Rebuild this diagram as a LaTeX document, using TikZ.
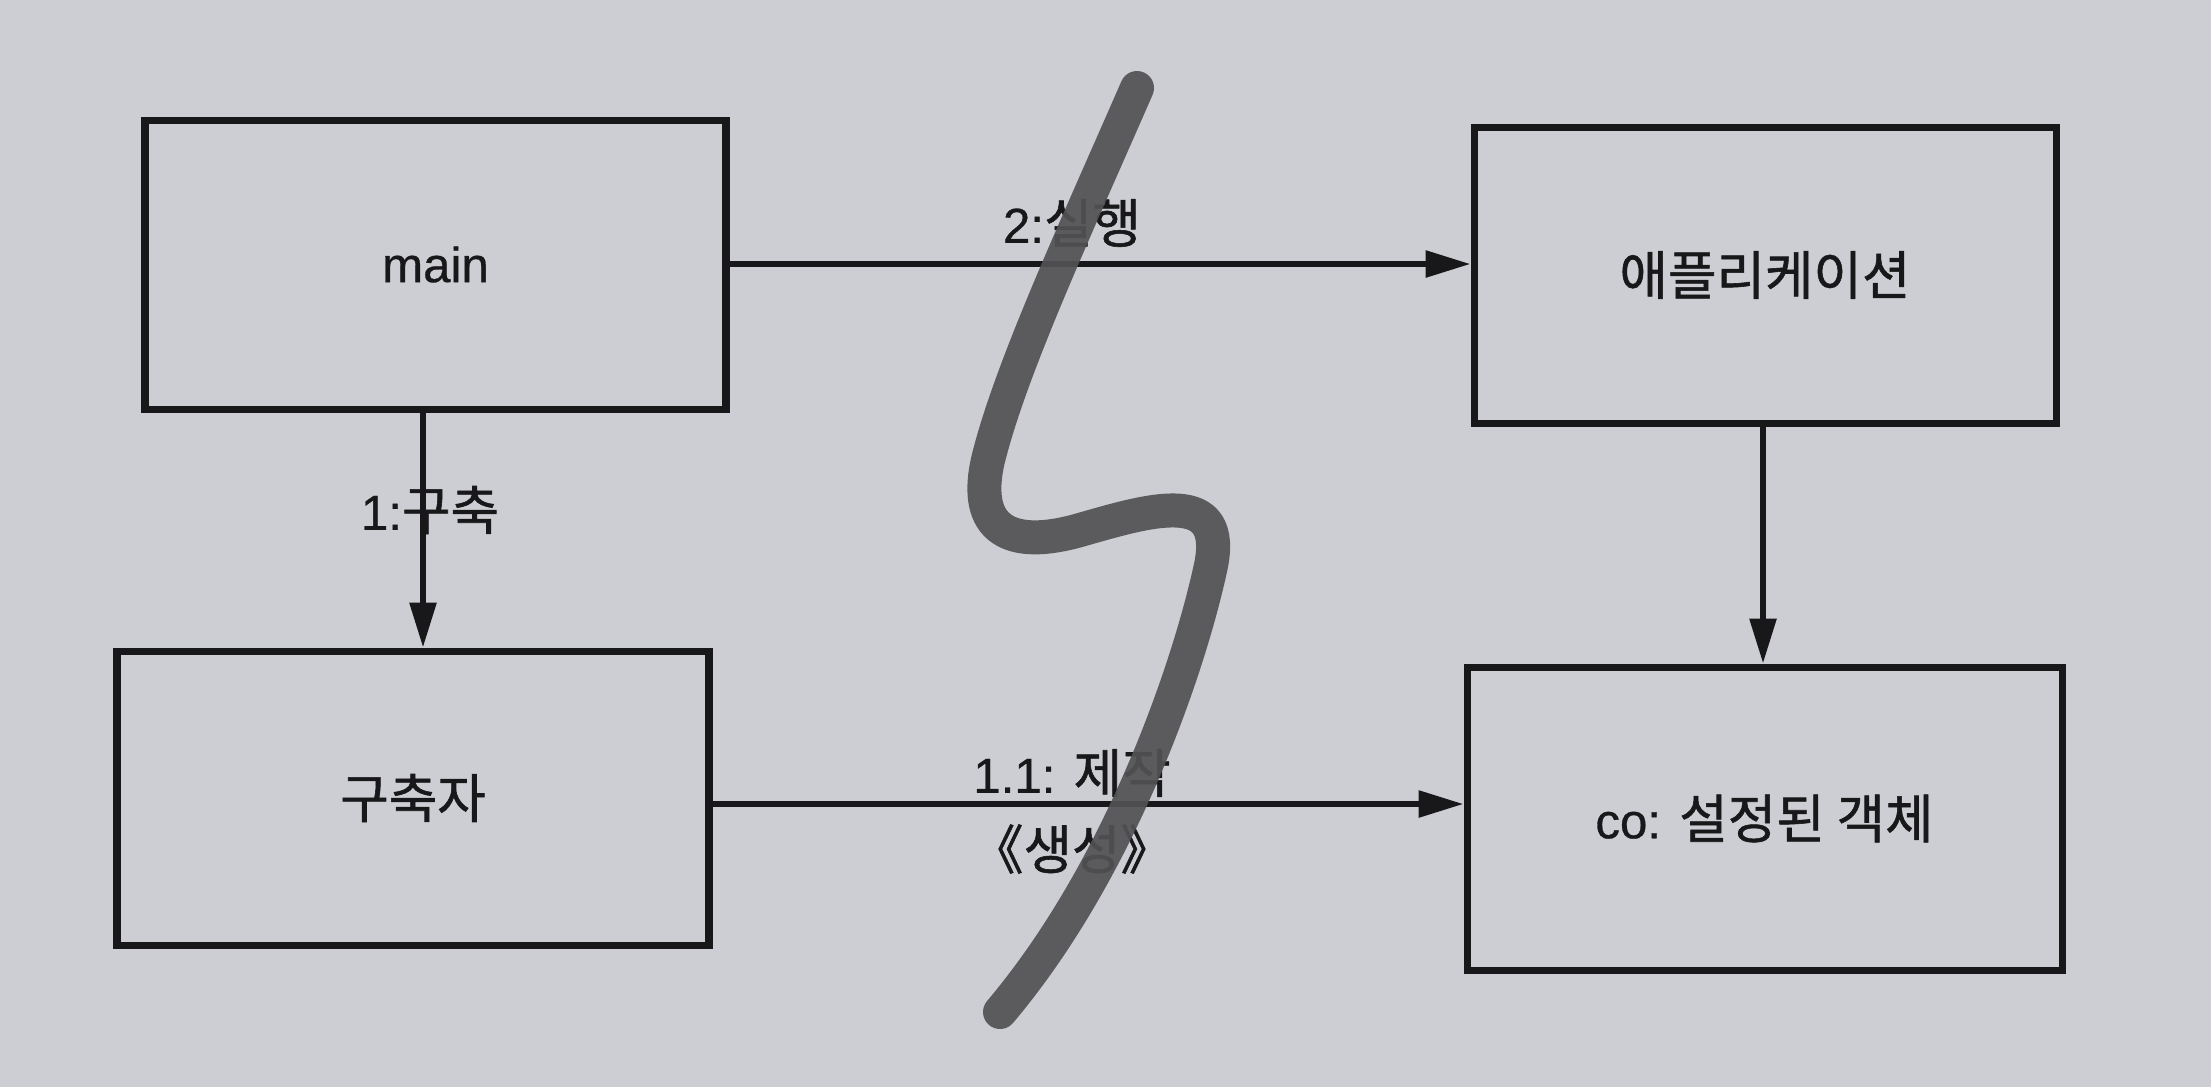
\documentclass[tikz,border=0pt]{standalone}
\usepackage{fontspec}
\setmainfont[FakeBold=0.6]{Liberation Sans}
\newfontfamily\kr[FakeBold=1.1]{Noto Sans CJK KR}
\usetikzlibrary{arrows.meta,calc}
\definecolor{paper}{RGB}{204,206,211}
\definecolor{ink}{RGB}{24,24,26}
\definecolor{marker}{RGB}{82,82,85}
\begin{document}
\begin{tikzpicture}[
  box/.style={draw=ink, line width=2pt, minimum width=#1, inner sep=0pt},
  arr/.style={draw=ink, line width=1.7pt, -{Triangle[length=0.45cm,width=0.26cm]}},
  lbl/.style={text=ink, inner sep=1pt, font=\fontsize{14}{17}\selectfont},
  krf/.style={font=\kr\fontsize{15}{18}\selectfont},
]
\fill[paper] (0,0) rectangle (22.11,-10.87);
\useasboundingbox (0,0) rectangle (22.11,-10.87);

\node[box=5.81cm, minimum height=2.89cm, lbl] (main) at (4.355,-2.645) {main};
\node[box=5.82cm, minimum height=2.96cm, lbl, krf] (app) at (17.65,-2.75) {애플리케이션};
\node[box=5.92cm, minimum height=2.94cm, lbl, krf] (builder) at (4.13,-7.98) {구축자};
\node[box=5.95cm, minimum height=3.03cm, lbl] (co) at (17.645,-8.185) {co: {\kr\fontsize{15}{18}\selectfont 설정된 객체}};

\coordinate (my) at (0,-2.64);
\coordinate (mx) at (4.23,0);
\coordinate (ax) at (17.63,0);
\coordinate (by) at (0,-8.04);

\draw[arr] (main.east |- my) -- (app.west |- my);
\draw[arr] (main.south -| mx) -- (builder.north -| mx);
\draw[arr] (app.south -| ax) -- (co.north -| ax);
\draw[arr] (builder.east |- by) -- (co.west |- by);

\node[lbl] (l1) at (4.30,-5.10) {1:{\kr\fontsize{15}{18}\selectfont 구축}};
\node[lbl] (l2) at (10.72,-2.23) {2:{\kr\fontsize{15}{18}\selectfont 실행}};
\node[lbl] (l3) at (10.72,-7.73) {1.1: {\kr\fontsize{15}{18}\selectfont 제작}};
\node[lbl, krf] (l4) at (10.72,-8.49) {《생성》};

\draw[marker, opacity=0.92, line width=0.34cm, line cap=round, line join=round]
  (11.37,-0.88) .. controls (10.75,-2.3) and (10.1,-3.7) .. (9.88,-4.6)
  .. controls (9.72,-5.3) and (10.1,-5.5) .. (10.8,-5.3)
  .. controls (11.5,-5.1) and (12.3,-4.85) .. (12.1,-5.7)
  .. controls (11.88,-6.7) and (11.2,-8.7) .. (10.0,-10.12);
\end{tikzpicture}
\end{document}
